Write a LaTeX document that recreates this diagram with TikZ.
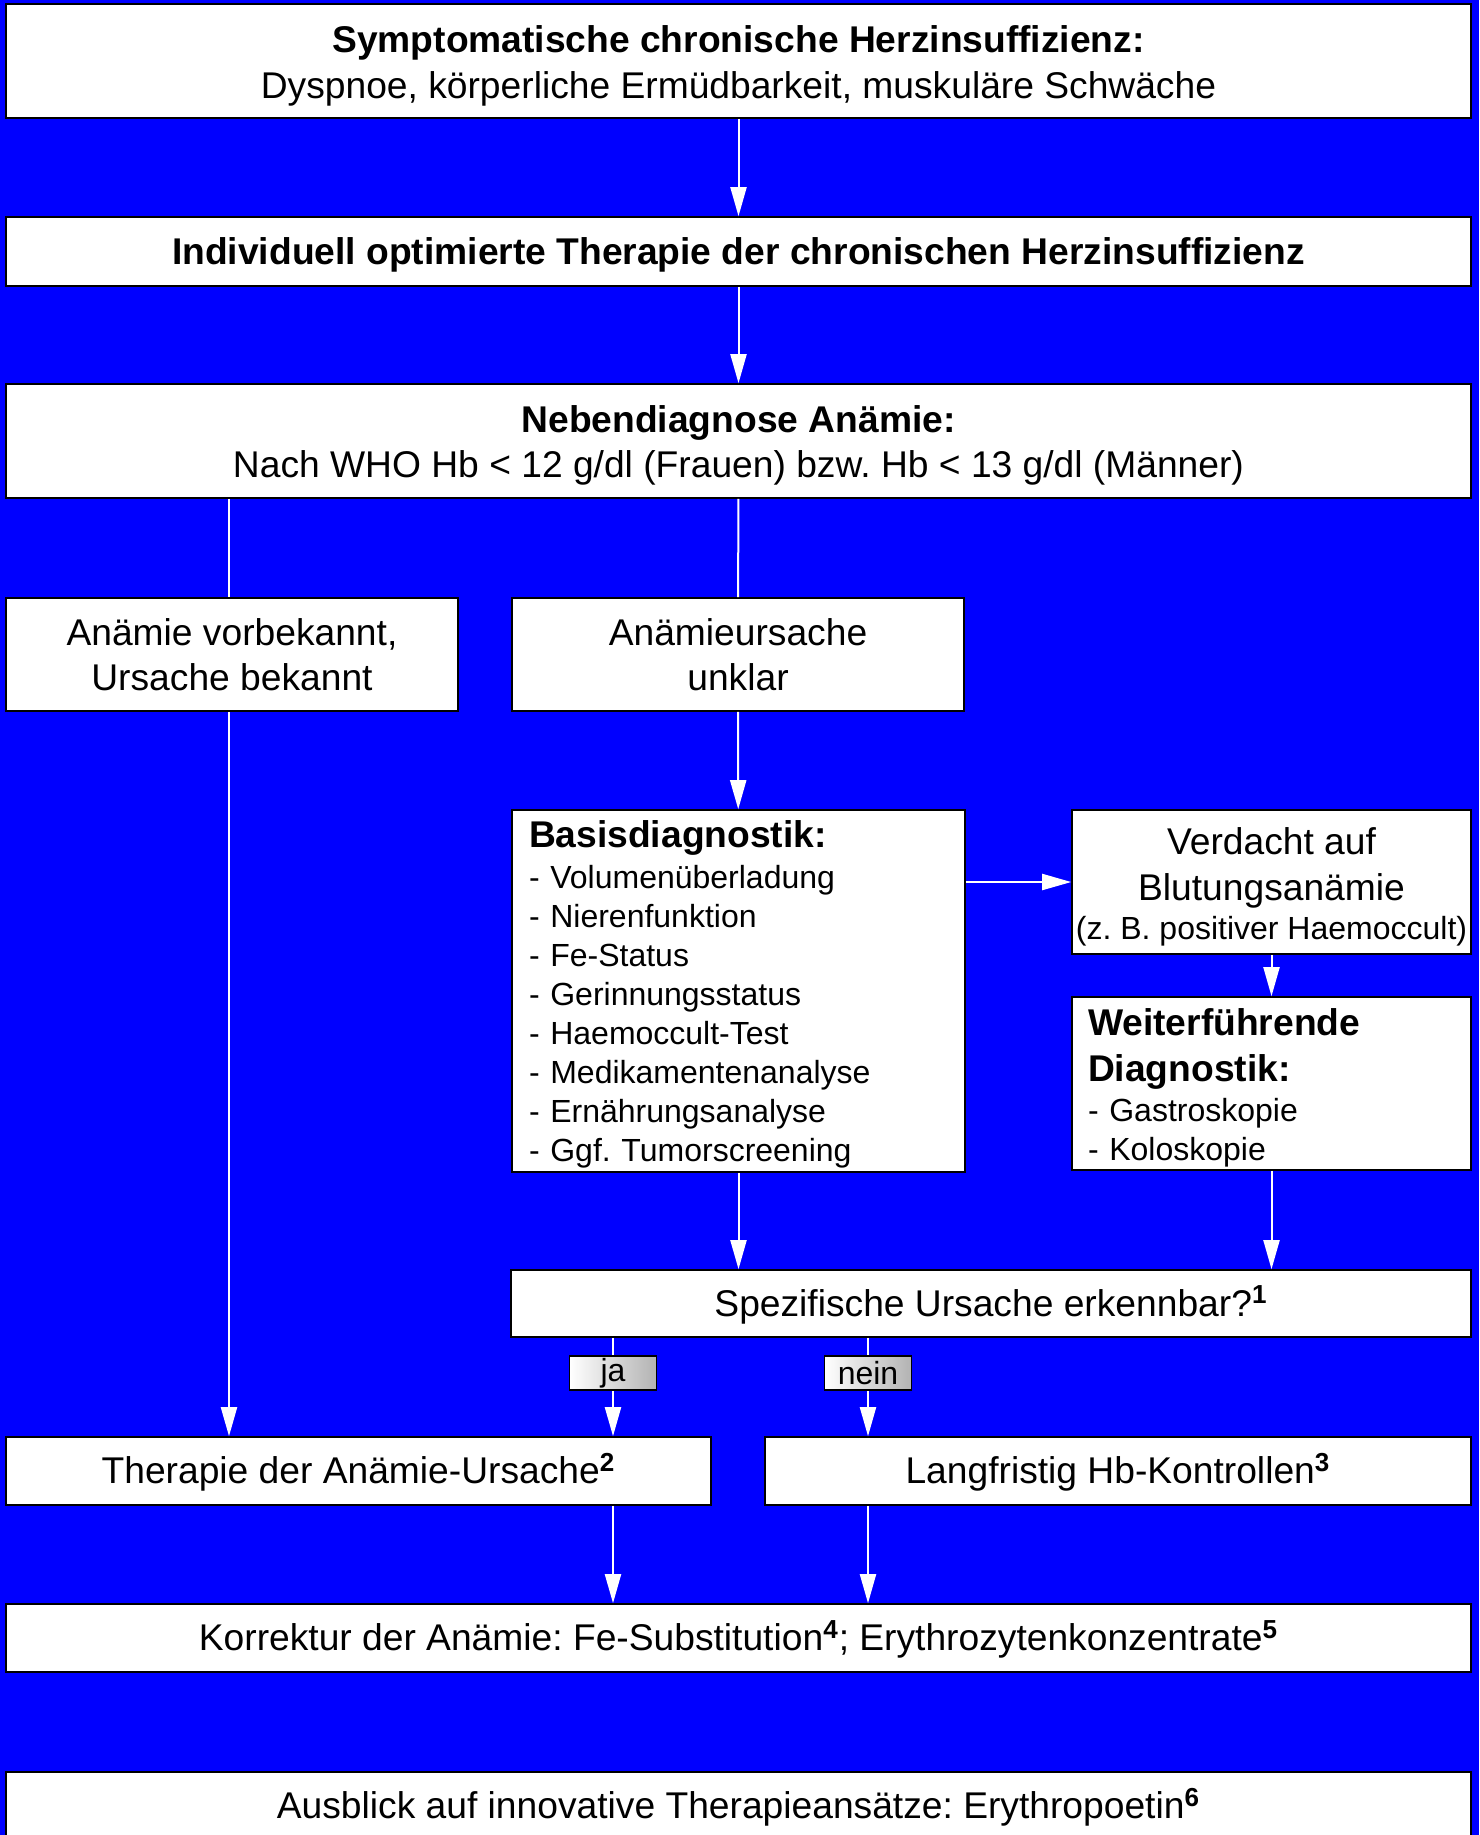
\documentclass[tikz,border=0pt]{standalone}
\usepackage{fontspec}
\setmainfont{Liberation Sans}
\usetikzlibrary{arrows.meta}
\frenchspacing

\newcommand{\bigtxt}{\fontsize{18.6}{22.8}\selectfont}
\newcommand{\listtxt}{\fontsize{16}{19.45}\selectfont}
\newcommand{\fnote}[1]{\textsuperscript{\bfseries #1}}
\newcommand{\hstrut}{\rule{0pt}{0.905em}}
\newcommand{\dstrut}{\rule[-0.212em]{0pt}{0.212em}}

\tikzset{
    box/.style={draw=black, line width=0.8pt, fill=white, inner sep=0pt, align=center, font=\bigtxt, minimum width=#1},
    oneline/.style={box=#1, text height=16.8pt, text depth=3.9pt},
    listbox/.style={box=#1, align=left, inner xsep=8pt, font=\listtxt,
        execute at begin node={\hstrut}, execute at end node={\dstrut}},
    arr/.style={draw=white, line width=1pt, -{Triangle[length=14.5pt,width=8pt]}},
    link/.style={draw=white, line width=1pt},
    jn/.style={draw=black, line width=0.6pt, left color=white, right color=black!30, minimum width=43.5pt, minimum height=17pt, inner sep=0pt, font=\listtxt}
}

\begin{document}
\begin{tikzpicture}[x=0.5pt, y=-0.5pt]
    \fill[blue] (0,0) rectangle (1479,1835);
    \useasboundingbox (0,0) rectangle (1479,1835);

    % Kopf
    \node[box=732.5pt, minimum height=57pt] (sympt) at (738.5,61)
        {\rule{0pt}{18.3pt}\textbf{Symptomatische chronische Herzinsuffizienz:}\\Dyspnoe, körperliche Ermüdbarkeit, muskuläre Schwäche};
    \node[oneline=732.5pt, minimum height=34.5pt] (optim) at (738.5,251.5)
        {\textbf{Individuell optimierte Therapie der chronischen Herzinsuffizienz}};
    \node[box=732.5pt, minimum height=57pt] (neben) at (738.5,441)
        {\rule{0pt}{18pt}\textbf{Nebendiagnose Anämie:}\\Nach WHO Hb < 12 g/dl (Frauen) bzw. Hb < 13 g/dl (Männer)};

    % Verzweigung
    \node[box=226pt, minimum height=56.5pt] (vorbek) at (232,654.5)
        {Anämie vorbekannt,\\Ursache bekannt};
    \node[box=226pt, minimum height=56.5pt] (unklar) at (738,654.5)
        {Anämieursache\\unklar};
    \node[listbox=226.5pt, text width=209.5pt, minimum height=181pt] (basis) at (738.5,991)
        {\rule{0pt}{16.8pt}{\bfseries\bigtxt Basisdiagnostik:}\\[1.2pt]
         - Volumenüberladung\\- Nierenfunktion\\- Fe-Status\\- Gerinnungsstatus\\
         - Haemoccult-Test\\- Medikamentenanalyse\\- Ernährungsanalyse\\- Ggf. Tumorscreening};
    \node[box=199.5pt, minimum height=72pt] (verdacht) at (1271.5,882)
        {\rule{0pt}{18.3pt}Verdacht auf\\[0.6pt]Blutungsanämie\\[-3.4pt]{\listtxt (z. B. positiver Haemoccult)}};
    \node[listbox=199.5pt, text width=183.5pt, minimum height=86.5pt] (weiter) at (1271.5,1083.5)
        {\rule{0pt}{18pt}{\bfseries\bigtxt Weiterführende}\\[3.5pt]{\bfseries\bigtxt Diagnostik:}\\[0.4pt]
         - Gastroskopie\\- Koloskopie};
    \node[oneline=480pt, minimum height=33.5pt] (spez) at (991,1303.5)
        {Spezifische Ursache erkennbar?\fnote{1}};

    % Therapie
    \node[oneline=352.5pt, minimum height=34pt] (ther) at (358.5,1471)
        {Therapie der Anämie-Ursache\fnote{2}};
    \node[oneline=353pt, minimum height=34pt] (lang) at (1118,1471)
        {Langfristig Hb-Kontrollen\fnote{3}};
    \node[oneline=732.5pt, minimum height=34pt] (korr) at (738.5,1638)
        {Korrektur der Anämie: Fe-Substitution\fnote{4}; Erythrozytenkonzentrate\fnote{5}};
    \node[oneline=732.5pt, minimum height=34pt] (ausb) at (738.5,1806)
        {Ausblick auf innovative Therapieansätze: Erythropoetin\fnote{6}};

    \coordinate (links) at (229,0);
    \coordinate (ja) at (613,1373);
    \coordinate (nein) at (868,1373);

    % Pfeile
    \draw[arr] (sympt) -- (optim);
    \draw[arr] (optim) -- (neben);
    \draw[link] (neben.south -| links) -- (vorbek.north -| links);
    \draw[link] (neben) -- (unklar);
    \draw[arr] (unklar) -- (basis);
    \draw[arr] (basis.east |- verdacht) -- (verdacht.west);
    \draw[arr] (verdacht) -- (weiter);
    \draw[arr] (basis.south) -- (basis.south |- spez.north);
    \draw[arr] (weiter.south) -- (weiter.south |- spez.north);
    \draw[arr] (vorbek.south -| links) -- (ther.north -| links);
    \draw[arr] (spez.south -| ja) -- (ther.north -| ja);
    \draw[arr] (spez.south -| nein) -- (lang.north -| nein);
    \draw[arr] (ther.south -| ja) -- (korr.north -| ja);
    \draw[arr] (lang.south -| nein) -- (korr.north -| nein);

    \node[jn] (jalabel) at (ja) {ja};
    \node[jn] (neinlabel) at (nein) {nein};
\end{tikzpicture}
\end{document}
